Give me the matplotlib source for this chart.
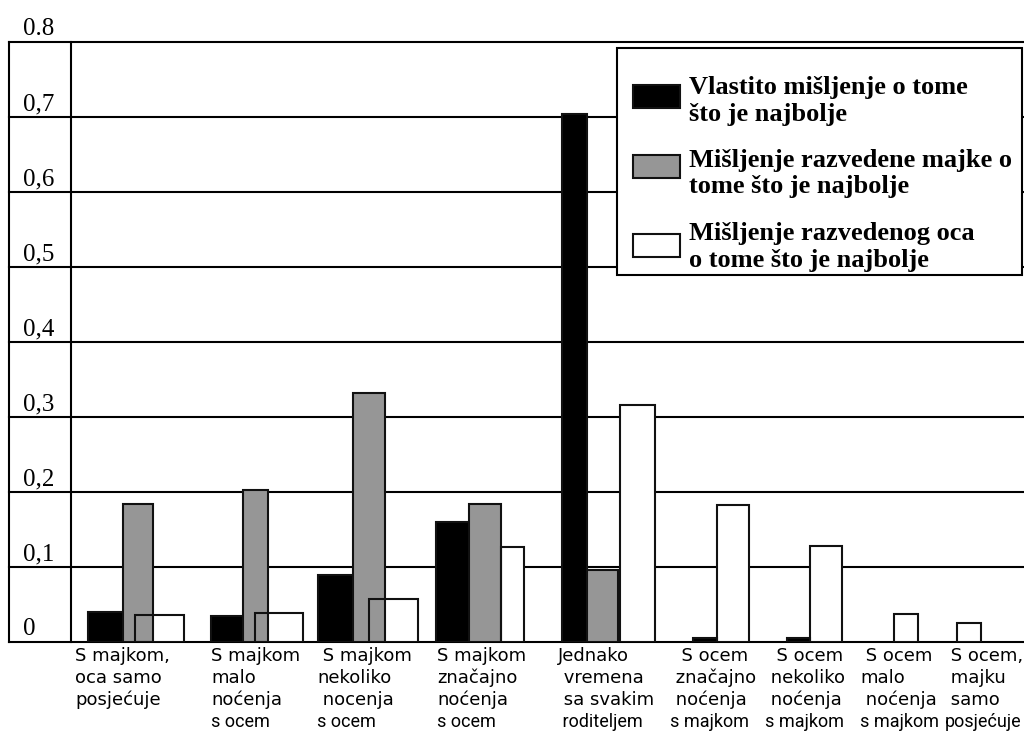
"""
Grouped bar chart: preferred post-divorce living arrangement for the child,
as seen by the child, the divorced mother and the divorced father.

Writes out.png (1024x731).
"""
import matplotlib

matplotlib.use("Agg")
import matplotlib.pyplot as plt
import numpy as np
from matplotlib.patches import Rectangle
from matplotlib.transforms import blended_transform_factory

# --- data -------------------------------------------------------------------
categories = [
    "S majkom,\noca samo\nposjećuje",
    "S majkom\nmalo\nnoćenja\ns ocem",
    " S majkom\nnekoliko\n nocenja\ns ocem",
    "S majkom\nznačajno\nnoćenja\ns ocem",
    "Jednako\n vremena\n sa svakim\n roditeljem",
    "  S ocem\n značajno\n noćenja\ns majkom",
    "  S ocem\n nekoliko\n noćenja\ns majkom",
    " S ocem\nmalo\n noćenja\ns majkom",
    " S ocem,\n majku\n samo\nposjećuje",
]
series_names = [
    "Vlastito mišljenje o tome\nšto je najbolje",
    "Mišljenje razvedene majke o\ntome što je najbolje",
    "Mišljenje razvedenog oca\no tome što je najbolje",
]
own_view = [0.040, 0.035, 0.089, 0.160, 0.704, 0.005, 0.005, 0.0, 0.0]
mother_view = [0.184, 0.203, 0.332, 0.184, 0.096, 0.0, 0.0, 0.0, 0.0]
father_view = [0.036, 0.039, 0.057, 0.127, 0.316, 0.183, 0.128, 0.037, 0.025]
ytick_values = [0.0, 0.1, 0.2, 0.3, 0.4, 0.5, 0.6, 0.7, 0.8]
ytick_labels = ["0", "0,1", "0,2", "0,3", "0,4", "0,5", "0,6", "0,7", "0.8"]

# --- layout (x in units of 100 px, measured from the left frame line) --------
own_left = [0.79, 2.02, 3.09, 4.27, 5.53, 6.84, 7.78, 0.0, 0.0]
own_width = [0.35, 0.32, 0.35, 0.33, 0.25, 0.24, 0.23, 0.0, 0.0]
mother_left = [1.14, 2.34, 3.44, 4.60, 5.78, 0.0, 0.0, 0.0, 0.0]
mother_width = [0.30, 0.25, 0.32, 0.32, 0.31, 0.0, 0.0, 0.0, 0.0]
father_left = [1.26, 2.46, 3.60, 4.92, 6.11, 7.08, 8.01, 8.85, 9.48]
father_width = [0.49, 0.48, 0.49, 0.23, 0.35, 0.32, 0.32, 0.24, 0.24]
label_left = [0.66, 2.02, 3.08, 4.28, 5.49, 6.61, 7.56, 8.51, 9.36]
divider_x = 0.62
x_max = 10.15

W, H = 1024, 731
GREY = "#969696"
EDGE = "#111111"
LW = 1.5


def fig_xy(px, py):
    """pixel position (from top-left) -> figure fraction"""
    return px / W, 1 - py / H


fig = plt.figure(figsize=(W / 100, H / 100), dpi=100)
ax = fig.add_axes([9 / W, 89 / H, 1015 / W, 600 / H])
ax.set_xlim(0, x_max)
ax.set_ylim(0, 0.8)
ax.set_axis_off()

# grid / frame
for v in ytick_values:
    ax.axhline(v, color="black", lw=LW, zorder=1, clip_on=False)
ax.axvline(0, color="black", lw=LW, zorder=1, clip_on=False)
ax.axvline(divider_x, color="black", lw=LW, zorder=1, clip_on=False)

for v, lab in zip(ytick_values, ytick_labels):
    ax.text(0.14, v + 0.0093, lab, ha="left", va="baseline",
            family="Liberation Serif", fontsize=18)

# bars: white fill first, then grey/black, then the white outlines on top
own = np.array(own_view)
mother = np.array(mother_view)
father = np.array(father_view)
m_own = np.array(own_width) > 0
m_mother = np.array(mother_width) > 0

ax.bar(father_left, father, width=father_width, align="edge",
       color="white", edgecolor="none", zorder=2)
ax.bar(np.array(own_left)[m_own], own[m_own], width=np.array(own_width)[m_own],
       align="edge", color="black", edgecolor=EDGE, lw=LW, zorder=3)
ax.bar(np.array(mother_left)[m_mother], mother[m_mother],
       width=np.array(mother_width)[m_mother], align="edge",
       color=GREY, edgecolor=EDGE, lw=LW, zorder=3)
ax.bar(father_left, father, width=father_width, align="edge",
       color="none", edgecolor=EDGE, lw=LW, zorder=4)

# category labels under the axis, one text per line (4th line is narrower)
trans = blended_transform_factory(ax.transData, ax.transAxes)
for x, lab in zip(label_left, categories):
    for i, line in enumerate(lab.split("\n")):
        base_px = 661 + i * 22
        ax.text(x, -(base_px - 642) / 600, line, transform=trans,
                ha="left", va="baseline", fontsize=13,
                family="DejaVu Sans" if i < 3 else "Roboto")

# legend box, drawn by hand so the spacing follows the original
ax.add_patch(Rectangle(fig_xy(617, 275), 405 / W, 227 / H,
                       transform=fig.transFigure, facecolor="white",
                       edgecolor="black", lw=LW, zorder=5, clip_on=False))
swatch_colors = ["black", GREY, "white"]
swatch_top = [85, 155, 234]
text_base = [94, 167, 240]
for name, col, sy, ty in zip(series_names, swatch_colors, swatch_top, text_base):
    ax.add_patch(Rectangle(fig_xy(633, sy + 23), 47 / W, 23 / H,
                           transform=fig.transFigure, facecolor=col,
                           edgecolor=EDGE, lw=LW, zorder=6, clip_on=False))
    for j, line in enumerate(name.split("\n")):
        ax.text(*fig_xy(689, ty + j * 26.5), line, transform=fig.transFigure,
                ha="left", va="baseline", family="Liberation Serif",
                weight="bold", fontsize=19, zorder=7)

fig.savefig("out.png", dpi=100)
